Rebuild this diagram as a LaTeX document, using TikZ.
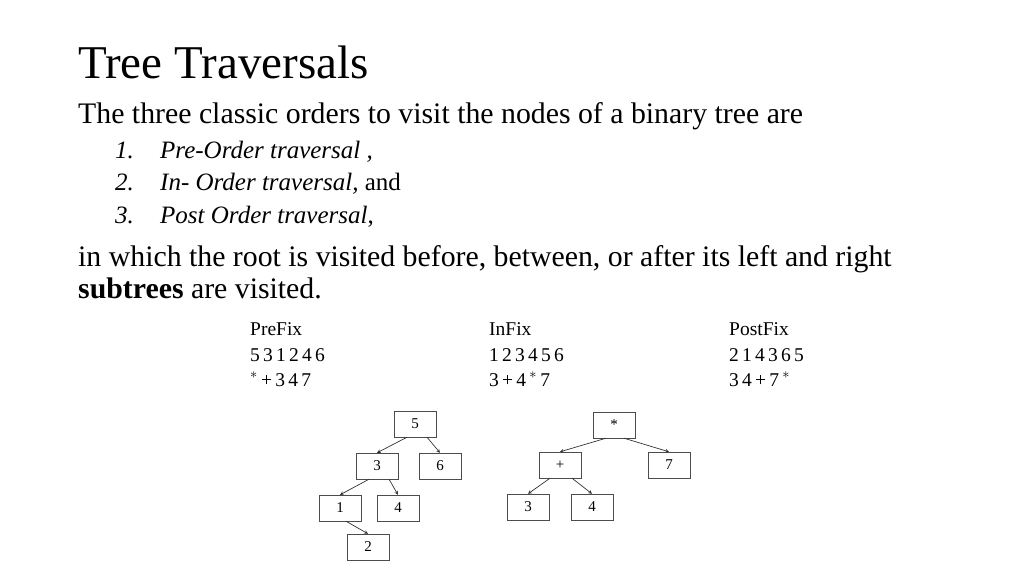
\documentclass[tikz,border=0pt]{standalone}
\usepackage{fontspec}
\setmainfont{Liberation Serif}
\begin{document}
\begin{tikzpicture}[x=1pt,y=-1pt,
  txt/.style={anchor=base west,inner sep=0pt},
  bx/.style={draw=black!70,minimum width=42pt,minimum height=26pt,inner sep=0pt,font=\fontsize{15}{15}\selectfont},
  ar/.style={-stealth,black!80,line width=0.7pt},
  lbl/.style={anchor=base west,inner sep=0pt,font=\fontsize{19.5}{19.5}\selectfont}]
\useasboundingbox (0,0) rectangle (1024,576);
\node[txt,font=\fontsize{47}{47}\selectfont] (t) at (78,78) {Tree Traversals};
\node[txt,font=\fontsize{29.8}{29.8}\selectfont] (l1) at (78,123) {The three classic orders to visit the nodes of a binary tree are};
\node[txt,font=\fontsize{25}{25}\selectfont] (n1) at (115,158) {\textit{1.}};
\node[txt,font=\fontsize{25}{25}\selectfont] (i1) at (160,158) {\textit{Pre-Order traversal ,}};
\node[txt,font=\fontsize{25}{25}\selectfont] (n2) at (115,190) {\textit{2.}};
\node[txt,font=\fontsize{25}{25}\selectfont] (i2) at (160,190) {\textit{In- Order traversal,} and};
\node[txt,font=\fontsize{25}{25}\selectfont] (n3) at (115,223) {\textit{3.}};
\node[txt,font=\fontsize{25}{25}\selectfont] (i3) at (160,223) {\textit{Post Order traversal},};
\node[txt,font=\fontsize{29.8}{29.8}\selectfont] (l2) at (78,266) {in which the root is visited before, between, or after its left and right};
\node[txt,font=\fontsize{29.8}{29.8}\selectfont] (l3) at (78,298) {\textbf{subtrees} are visited.};
\node[lbl] (p1) at (250,335) {PreFix};
\node[lbl] (p2) at (250,361) {5\,3\,1\,2\,4\,6};
\node[lbl] (p3) at (250,386) {$^*$\,+\,3\,4\,7};
\node[lbl] (q1) at (489,335) {InFix};
\node[lbl] (q2) at (489,361) {1\,2\,3\,4\,5\,6};
\node[lbl] (q3) at (489,386) {3\,+\,4\,$^*$\,7};
\node[lbl] (r1) at (729,335) {PostFix};
\node[lbl] (r2) at (729,361) {2\,1\,4\,3\,6\,5};
\node[lbl] (r3) at (729,386) {3\,4\,+\,7\,$^*$};
\node[bx] (a5) at (415,424) {5};
\node[bx] (a3) at (377,466) {3};
\node[bx] (a6) at (440,466) {6};
\node[bx] (a1) at (340,508) {1};
\node[bx] (a4) at (398,508) {4};
\node[bx] (a2) at (368,547) {2};
\node[bx] (b0) at (614,425) {*};
\node[bx] (bp) at (560,465) {+};
\node[bx] (b7) at (669,465) {7};
\node[bx] (b3) at (528,507) {3};
\node[bx] (b4) at (592,507) {4};
\draw[ar] (a5.south) ++(-8,0) -- (a3.north);
\draw[ar] (a5.south) ++(12,0) -- (a6.north);
\draw[ar] (a3.south) ++(-8,0) -- (a1.north);
\draw[ar] (a3.south) ++(12,0) -- (a4.north);
\draw[ar] (a1.south) ++(6,0) -- (a2.north);
\draw[ar] (b0.south) ++(-8,0) -- (bp.north);
\draw[ar] (b0.south) ++(10,0) -- (b7.north);
\draw[ar] (bp.south) ++(-10,0) -- (b3.north);
\draw[ar] (bp.south) ++(12,0) -- (b4.north);
\end{tikzpicture}
\end{document}
